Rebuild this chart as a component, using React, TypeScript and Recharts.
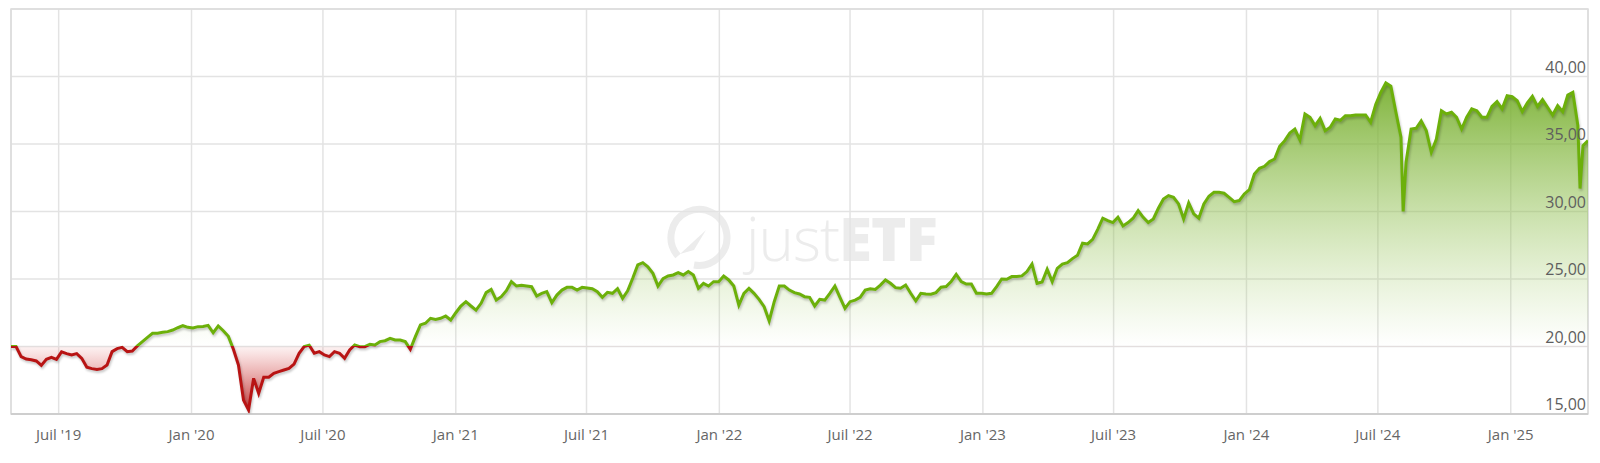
import React from 'react';
import { ComposedChart, Area, XAxis, YAxis, CartesianGrid, ReferenceArea } from 'recharts';

// weekly closes, first point 2019-04-26, one per week
const START_DATE = '2019-04-26';
const weeklyValues = [
  20.0, 20.0, 19.25, 19.07, 19.02, 18.93, 18.6, 19.05, 19.2, 19.05,
  19.6, 19.47, 19.37, 19.47, 19.12, 18.46, 18.36, 18.3, 18.36, 18.63,
  19.62, 19.84, 19.94, 19.62, 19.67, 20.04, 20.36, 20.68, 20.98, 20.98,
  21.05, 21.1, 21.22, 21.39, 21.54, 21.42, 21.37, 21.47, 21.49, 21.57,
  21.02, 21.52, 21.17, 20.75, 19.8, 18.63, 16.03, 15.3, 17.64, 16.53,
  17.72, 17.72, 18.01, 18.14, 18.26, 18.38, 18.7, 19.5, 19.99, 20.1,
  19.5, 19.62, 19.37, 19.25, 19.62, 19.5, 19.12, 19.74, 20.11, 19.99,
  19.99, 20.16, 20.11, 20.36, 20.43, 20.6, 20.48, 20.48, 20.36, 19.79,
  20.73, 21.6, 21.72, 22.09, 22.01, 22.09, 22.26, 21.96, 22.5, 23.0,
  23.32, 23.0, 22.7, 23.2, 23.99, 24.23, 23.44, 23.69, 24.13, 24.8,
  24.48, 24.53, 24.48, 24.43, 23.74, 23.94, 24.06, 23.25, 23.81, 24.18,
  24.38, 24.38, 24.18, 24.38, 24.33, 24.28, 24.06, 23.64, 24.01, 23.94,
  24.28, 23.57, 24.13, 25.05, 26.04, 26.21, 25.91, 25.42, 24.48, 25.02,
  25.22, 25.3, 25.47, 25.3, 25.55, 25.3, 24.31, 24.68, 24.48, 24.8,
  24.8, 25.22, 24.93, 24.48, 23.07, 23.94, 24.31, 23.94, 23.49, 22.95,
  21.9, 23.32, 24.48, 24.48, 24.18, 23.99, 23.89, 23.69, 23.64, 23.0,
  23.49, 23.44, 23.94, 24.48, 23.64, 22.83, 23.32, 23.44, 23.64, 24.18,
  24.28, 24.23, 24.55, 24.93, 24.68, 24.36, 24.31, 24.55, 23.94, 23.39,
  23.94, 23.89, 23.87, 23.99, 24.39, 24.44, 24.81, 25.35, 24.81, 24.63,
  24.63, 23.94, 23.94, 23.89, 23.94, 24.44, 25.0, 24.98, 25.18, 25.18,
  25.23, 25.55, 26.11, 24.68, 24.78, 25.72, 24.81, 25.79, 26.11, 26.21,
  26.51, 26.76, 27.65, 27.6, 27.94, 28.68, 29.5, 29.32, 29.18, 29.57,
  28.93, 29.18, 29.5, 30.06, 29.57, 29.18, 29.45, 30.24, 30.93, 31.18,
  31.05, 30.56, 29.45, 30.63, 29.82, 29.5, 30.56, 31.13, 31.42, 31.42,
  31.35, 31.05, 30.73, 30.81, 31.3, 31.62, 32.78, 33.2, 33.35, 33.7,
  33.89, 34.83, 35.25, 35.82, 36.11, 35.3, 37.23, 36.98, 36.36, 36.9,
  35.99, 36.24, 36.86, 36.76, 37.1, 37.1, 37.15, 37.15, 37.15, 36.61,
  37.93, 38.83, 39.52, 39.28, 37.35, 35.5, 33.65, 36.11, 36.16, 36.71,
  35.99, 34.39, 35.37, 37.47, 37.23, 37.35, 36.98, 36.11, 36.98, 37.6,
  37.47, 36.98, 36.98, 37.79, 38.14, 37.6, 38.58, 38.51, 38.21, 37.4,
  38.04, 38.53, 37.79, 38.29, 37.72, 37.15, 37.84, 37.4, 38.63, 38.83,
  36.36, 34.88, 35.25,
];

// single-day lows that the weekly closes miss
const extraDates = ['2024-08-05', '2025-04-07'];
const extraValues = [30.0, 31.7];

const tickDates = [
  '2019-07-01', '2020-01-01', '2020-07-01', '2021-01-01', '2021-07-01', '2022-01-01',
  '2022-07-01', '2023-01-01', '2023-07-01', '2024-01-01', '2024-07-01', '2025-01-01',
];
const tickLabels = [
  "Juil '19", "Jan '20", "Juil '20", "Jan '21", "Juil '21", "Jan '22",
  "Juil '22", "Jan '23", "Juil '23", "Jan '24", "Juil '24", "Jan '25",
];
const yTicks = [15, 20, 25, 30, 35, 40, 45];

const DAY = 86400000;
const toTs = (d: string) => Date.parse(d + 'T00:00:00Z');
const startTs = toTs(START_DATE);

const data = [
  ...weeklyValues.map((v, i) => ({ t: startTs + i * 7 * DAY, v })),
  ...extraDates.map((d, k) => ({ t: toTs(d), v: extraValues[k] })),
].sort((a, b) => a.t - b.t);

const endTs = startTs + (weeklyValues.length - 1) * 7 * DAY;
const tickTs = tickDates.map(toTs);
const base = weeklyValues[0];

const WIDTH = 1600;
const HEIGHT = 463;
const MARGIN = { top: 9, right: 12, bottom: 0, left: 11 };
const X_AXIS_H = 49;
const Y_MIN = 15;
const Y_MAX = 45;
const plotTop = MARGIN.top;
const plotBottom = HEIGHT - MARGIN.bottom - X_AXIS_H;
const plotRight = WIDTH - MARGIN.right;
const baseOff = (Y_MAX - base) / (Y_MAX - Y_MIN);
const off40 = (Y_MAX - 40) / (Y_MAX - Y_MIN);

const GREEN = '#6cb00a';
const RED = '#b81414';
const FONT = '"Open Sans", "DejaVu Sans", sans-serif';

const XTick = (props: any) => {
  const { x, y, payload } = props;
  const idx = tickTs.indexOf(payload.value);
  return (
    <text x={x} y={y + 26} textAnchor="middle" fill="#666" fontSize={15} fontFamily={FONT}>
      {idx >= 0 ? tickLabels[idx] : ''}
    </text>
  );
};

const YTick = (props: any) => {
  const { y, payload } = props;
  if (payload.value === Y_MAX) return <g />;
  return (
    <text x={plotRight - 2} y={y - 4} textAnchor="end" fill="#5e5e5e" fontSize={16} fontFamily={FONT}>
      {Number(payload.value).toFixed(2).replace('.', ',')}
    </text>
  );
};

const Watermark = () => (
  <div
    style={{
      position: 'absolute',
      left: 664,
      top: 204,
      display: 'flex',
      alignItems: 'center',
      color: '#ececec',
      fontFamily: FONT,
      fontSize: 60,
      lineHeight: 1,
    }}
  >
    <svg width={68} height={68} viewBox="0 0 68 68">
      <path d="M 14 52 A 28 28 0 1 1 30 61" fill="none" stroke="#ececec" strokeWidth={7} />
      <polygon points="16,50 42,26 30,46" fill="#ececec" />
    </svg>
    <span style={{ fontWeight: 300, marginLeft: 14, letterSpacing: -1 }}>just</span>
    <span style={{ fontWeight: 800, letterSpacing: -1 }}>ETF</span>
  </div>
);

export default function App() {
  return (
    <div style={{ position: 'absolute', left: 0, top: 0, width: WIDTH, height: HEIGHT, background: '#fff' }}>
      <style>{`.recharts-area-curve { filter: drop-shadow(1px 2px 1px rgba(0,0,0,0.22)); }`}</style>
      <Watermark />
      <div style={{ position: 'absolute', left: 0, top: 0 }}>
        <ComposedChart width={WIDTH} height={HEIGHT} data={data} margin={MARGIN}>
          <defs>
            <linearGradient id="strokeGrad" gradientUnits="userSpaceOnUse" x1={0} y1={plotTop} x2={0} y2={plotBottom}>
              <stop offset={0} stopColor={GREEN} />
              <stop offset={baseOff} stopColor={GREEN} />
              <stop offset={baseOff} stopColor={RED} />
              <stop offset={1} stopColor={RED} />
            </linearGradient>
            <linearGradient id="fillGrad" gradientUnits="userSpaceOnUse" x1={0} y1={plotTop} x2={0} y2={plotBottom}>
              <stop offset={0} stopColor="#6aa71f" stopOpacity={1} />
              <stop offset={off40} stopColor="#74ad2a" stopOpacity={0.95} />
              <stop offset={baseOff} stopColor="#a8cf70" stopOpacity={0} />
              <stop offset={baseOff} stopColor="#e06060" stopOpacity={0.08} />
              <stop offset={1} stopColor="#b41e1e" stopOpacity={0.95} />
            </linearGradient>
          </defs>
          <CartesianGrid stroke="#e3e3e3" strokeWidth={1.5} />
          <XAxis
            dataKey="t"
            type="number"
            domain={[startTs, endTs]}
            ticks={tickTs}
            height={X_AXIS_H}
            tick={<XTick />}
            tickLine={false}
            tickSize={0}
            tickMargin={0}
            axisLine={{ stroke: '#c8c8c8', strokeWidth: 1.5 }}
            allowDataOverflow
          />
          <YAxis
            orientation="right"
            mirror
            width={60}
            domain={[Y_MIN, Y_MAX]}
            ticks={yTicks}
            interval={0}
            tick={<YTick />}
            tickLine={false}
            axisLine={false}
            allowDataOverflow
          />
          <ReferenceArea x1={startTs} x2={endTs} y1={Y_MIN} y2={Y_MAX} fill="none" stroke="#dcdcdc" strokeWidth={1.5} />
          <Area
            type="linear"
            dataKey="v"
            baseValue={base}
            stroke="url(#strokeGrad)"
            strokeWidth={3}
            fill="url(#fillGrad)"
            fillOpacity={1}
            dot={false}
            activeDot={false}
            isAnimationActive={false}
          />
        </ComposedChart>
      </div>
    </div>
  );
}
